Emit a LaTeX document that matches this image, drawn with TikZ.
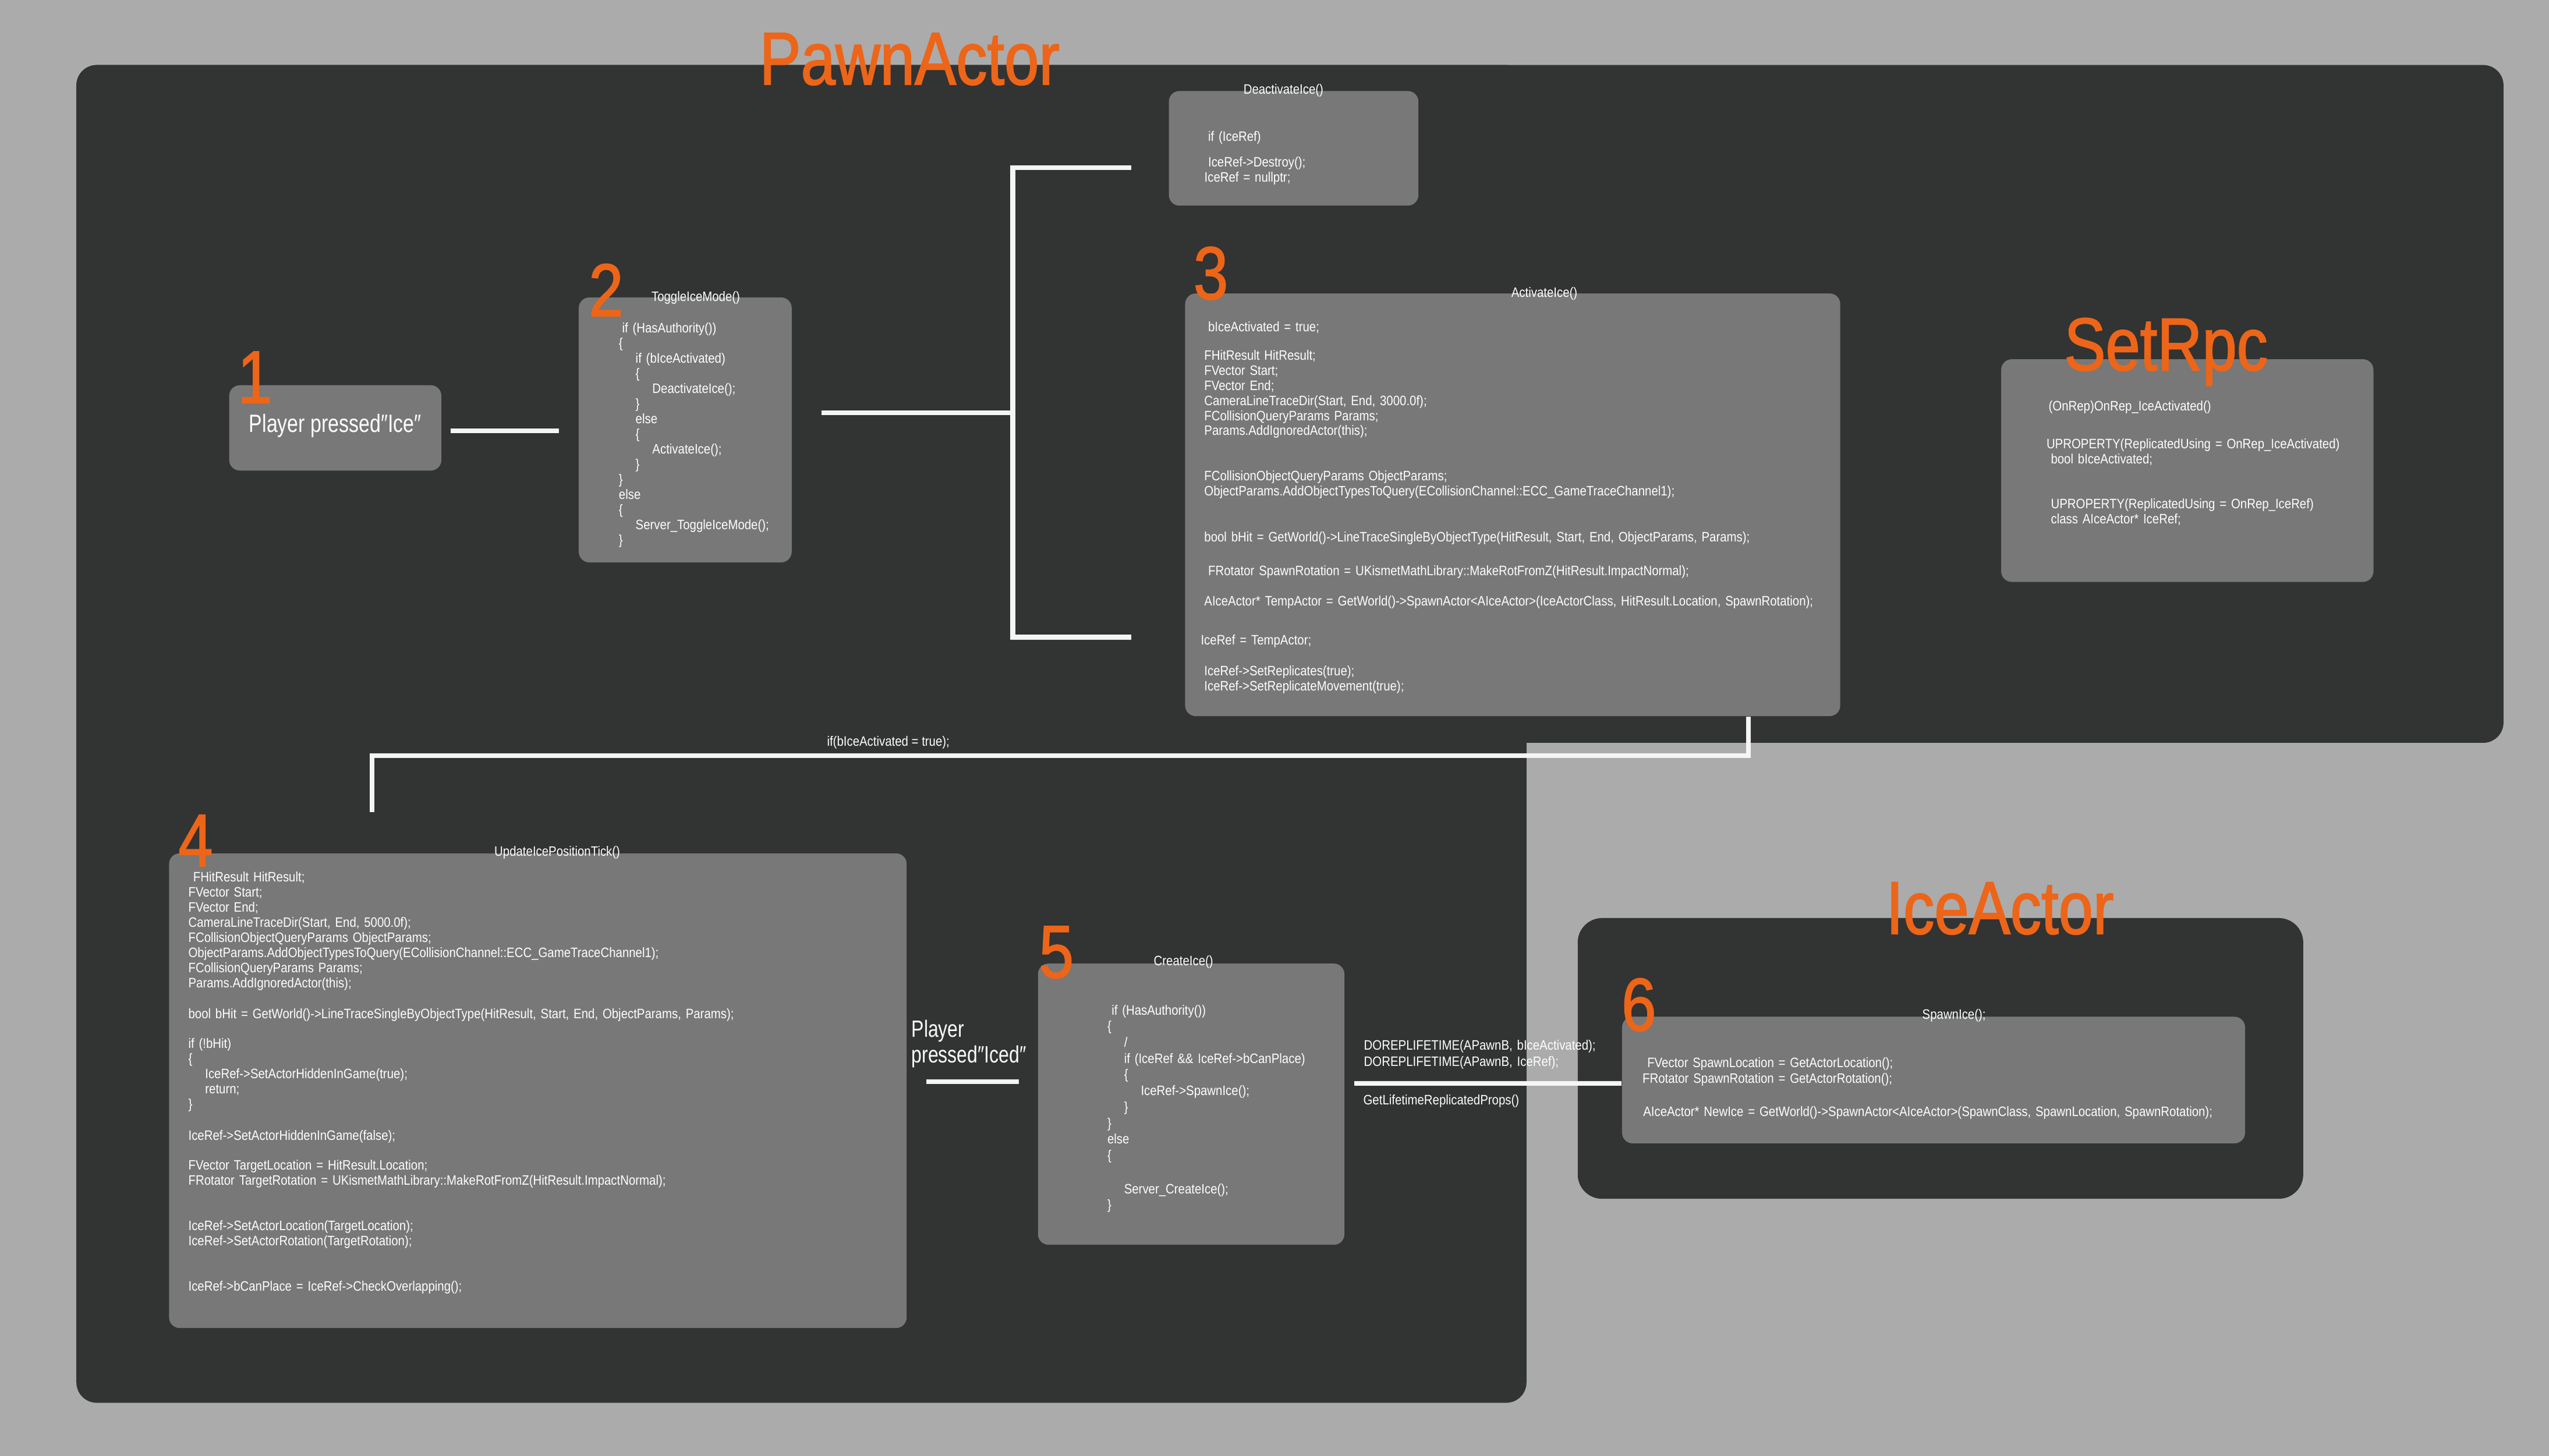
\documentclass[tikz,border=0pt]{standalone}
\usepackage{fontspec}
\setmainfont{Liberation Sans}
\newfontfamily\codefont[FakeStretch=0.87]{Liberation Sans}
\newfontfamily\headfont[FakeStretch=0.83,FakeBold=1.5]{Liberation Sans}
\newfontfamily\pressfont[FakeStretch=0.79]{Liberation Sans}
\newcommand\codetab{\hspace*{10.3pt}}
\definecolor{sheetgray}{HTML}{ABABAB}
\definecolor{panelgray}{HTML}{323333}
\definecolor{cardgray}{HTML}{777877}
\definecolor{accent}{HTML}{EC6519}
\definecolor{wirewhite}{HTML}{F5F5F5}

\begin{document}
\begin{tikzpicture}[%
	x=1pt,y=-1pt,
	codebox/.style={rectangle,rounded corners=6.5pt,fill=cardgray,inner sep=0pt},
	codetext/.style={text=white,font=\codefont\fontsize{8.4}{9.3}\selectfont,
		align=left,text width=#1,inner sep=0pt,anchor=base west},
	codetext/.default=200pt,
	fname/.style={text=white,font=\codefont\fontsize{8.4}{9.3}\selectfont,inner sep=0pt,anchor=base},
	heading/.style={text=accent,font=\headfont\fontsize{46}{46}\selectfont,inner sep=0pt,anchor=base west},
	wire/.style={draw=wirewhite,line width=2.9pt}]

	\useasboundingbox (0,0) rectangle (1568,895.7);
	\fill[sheetgray] (0,0) rectangle (1568,895.7);

	\fill[panelgray,rounded corners=12.5pt] (47,40) rectangle (1540,457);
	\fill[panelgray,rounded corners=12.5pt] (47,40) rectangle (939,863);
	\fill[panelgray,rounded corners=15pt]	(970.5,564.8) rectangle (1416.8,737.5);

	\node[codebox,minimum width=130.5pt,minimum height=52.5pt,text=white,
		font=\pressfont\fontsize{15.4}{16}\selectfont,text height=11pt,text depth=5.5pt]
						(PI)	at (206.25,263.25)	{Player pressed″Ice″};
	\node[codebox,minimum width=131pt,minimum height=163pt]		(TI)	at (421.5,264.5)	{};
	\node[codebox,minimum width=153.5pt,minimum height=70.5pt]	(DI)	at (795.75,91.25)	{};
	\node[codebox,minimum width=403pt,minimum height=260pt]		(AI)	at (930.5,310.55)	{};
	\node[codebox,minimum width=229pt,minimum height=137pt]		(RPC)	at (1345.5,289.5)	{};
	\node[codebox,minimum width=453.7pt,minimum height=292pt]	(UT)	at (330.85,671)		{};
	\node[codebox,minimum width=188.5pt,minimum height=173pt]	(CI)	at (732.75,679.3)	{};
	\node[codebox,minimum width=383.2pt,minimum height=77.9pt]	(SI)	at (1189.4,664.45)	{};

	\node[heading]	(PA)	at (467,52)			{PawnActor};
	\node[heading]	(SR)	at (1269.6,227.8)	{SetRpc};
	\node[heading]	(IA)	at (1160,574.5)		{IceActor};

	\node[fname]	at (428,185.5)		{ToggleIceMode()};
	\node[fname]	at (789.5,58)		{DeactivateIce()};
	\node[fname]	at (950,183)		{ActivateIce()};
	\node[fname]	at (342.8,526.5)	{UpdateIcePositionTick()};
	\node[fname]	at (728,594)		{CreateIce()};
	\node[fname]	at (1202,626.8)		{SpawnIce();};

	\node[codetext=100pt]	(TIcode)	at (380.5,204.8) {%
		\hspace*{2pt}if (HasAuthority())\\
		\{\\
		\codetab if (bIceActivated)\\
		\codetab\{\\
		\codetab\codetab DeactivateIce();\\
		\codetab\}\\
		\codetab else\\
		\codetab\{\\
		\codetab\codetab ActivateIce();\\
		\codetab\}\\
		\}\\
		else\\
		\{\\
		\codetab Server\_ToggleIceMode();\\
		\}};

	\node[codetext=120pt]	(DIcode)	at (743,86.7) {%
		if (IceRef)\\[6.7pt]
		IceRef->Destroy();\\
		\hspace*{-2.3pt}IceRef = nullptr;};

	\node[codetext=420pt]	(AIcode)	at (740.6,203.8) {%
		\hspace*{2.4pt}bIceActivated = true;\\[8.3pt]
		FHitResult HitResult;\\
		FVector Start;\\
		FVector End;\\
		CameraLineTraceDir(Start, End, 3000.0f);\\
		FCollisionQueryParams Params;\\
		Params.AddIgnoredActor(this);\\[18.3pt]
		FCollisionObjectQueryParams ObjectParams;\\
		ObjectParams.AddObjectTypesToQuery(ECollisionChannel::ECC\_GameTraceChannel1);\\[19.1pt]
		bool bHit = GetWorld()->LineTraceSingleByObjectType(HitResult, Start, End, ObjectParams, Params);\\[11.5pt]
		\hspace*{2.4pt}FRotator SpawnRotation = UKismetMathLibrary::MakeRotFromZ(HitResult.ImpactNormal);\\[9.3pt]
		AIceActor* TempActor = GetWorld()->SpawnActor<AIceActor>(IceActorClass, HitResult.Location, SpawnRotation);\\[14.9pt]
		\hspace*{-2.1pt}IceRef = TempActor;\\[9.5pt]
		IceRef->SetReplicates(true);\\
		IceRef->SetReplicateMovement(true);};

	\node[codetext=200pt]	(RPCcode)	at (1258.7,252.5) {%
		\hspace*{1.3pt}(OnRep)OnRep\_IceActivated()\\[14pt]
		UPROPERTY(ReplicatedUsing = OnRep\_IceActivated)\\
		\hspace*{2.7pt}bool bIceActivated;\\[18.3pt]
		\hspace*{2.7pt}UPROPERTY(ReplicatedUsing = OnRep\_IceRef)\\
		\hspace*{2.7pt}class AIceActor* IceRef;};

	\node[codetext=440pt]	(UTcode)	at (115.7,542.6) {%
		\hspace*{3pt}FHitResult HitResult;\\
		FVector Start;\\
		FVector End;\\
		CameraLineTraceDir(Start, End, 5000.0f);\\
		FCollisionObjectQueryParams ObjectParams;\\
		ObjectParams.AddObjectTypesToQuery(ECollisionChannel::ECC\_GameTraceChannel1);\\
		FCollisionQueryParams Params;\\
		Params.AddIgnoredActor(this);\\[9.5pt]
		bool bHit = GetWorld()->LineTraceSingleByObjectType(HitResult, Start, End, ObjectParams, Params);\\[9.2pt]
		if (!bHit)\\
		\{\\
		\codetab IceRef->SetActorHiddenInGame(true);\\
		\codetab return;\\
		\}\\[9.8pt]
		IceRef->SetActorHiddenInGame(false);\\[9pt]
		FVector TargetLocation = HitResult.Location;\\
		FRotator TargetRotation = UKismetMathLibrary::MakeRotFromZ(HitResult.ImpactNormal);\\[18.7pt]
		IceRef->SetActorLocation(TargetLocation);\\
		IceRef->SetActorRotation(TargetRotation);\\[18.7pt]
		IceRef->bCanPlace = IceRef->CheckOverlapping();};

	\node[codetext=140pt,font=\codefont\fontsize{8.4}{9.92}\selectfont]	(CIcode)	at (681,624.3) {%
		\hspace*{2.6pt}if (HasAuthority())\\
		\{\\
		\codetab/\\
		\codetab if (IceRef \&\& IceRef->bCanPlace)\\
		\codetab\{\\
		\codetab\codetab IceRef->SpawnIce();\\
		\codetab\}\\
		\}\\
		else\\
		\{\\[10.8pt]
		\codetab Server\_CreateIce();\\
		\}};

	\node[codetext=370pt,font=\codefont\fontsize{8.4}{9.6}\selectfont]	(SIcode)	at (1010.2,656.8) {%
		\hspace*{2.9pt}FVector SpawnLocation = GetActorLocation();\\
		FRotator SpawnRotation = GetActorRotation();\\[10.9pt]
		\hspace*{0.4pt}AIceActor* NewIce = GetWorld()->SpawnActor<AIceActor>(SpawnClass, SpawnLocation, SpawnRotation);};

	\node[heading]	(N1)	at (146,248)		{1};
	\node[heading]	(N2)	at (362,194.5)		{2};
	\node[heading]	(N3)	at (734,184)		{3};
	\node[heading]	(N4)	at (109.5,533)		{4};
	\node[heading]	(N5)	at (639,601.5)		{5};
	\node[heading]	(N6)	at (997.3,634)		{6};

	\coordinate (L12)	at (0,265);
	\coordinate (F)		at (623,254);
	\coordinate (FU)	at (623,103);
	\coordinate (FD)	at (623,392);
	\coordinate (D1)	at (1075.5,465);
	\coordinate (D2)	at (229,465);
	\coordinate (L45)	at (0,665.6);
	\coordinate (L56)	at (0,666.5);

	\draw[wire,shorten <=5.5pt,shorten >=12pt]	(PI.east |- L12) -- (TI.west |- L12);
	\draw[wire,shorten <=18pt]					(TI.east |- F) -- (F);
	\draw[wire,shorten <=23pt,shorten >=33pt]	(DI.west |- FU) -- (FU) -- (FD) -- (AI.west |- FD);
	\draw[wire,shorten >=25pt]	(AI.south -| D1) -- (D1)
		-- node[fname,pos=0.625,yshift=6pt] {if(bIceActivated = true);}
		(D2) -- (D2 |- UT.north);
	\draw[wire,shorten <=11.8pt,shorten >=11.5pt]	(UT.east |- L45)
		-- node[text=white,font=\pressfont\fontsize{14.5}{16}\selectfont,align=left,text width=80pt,
			inner sep=0pt,pos=0,anchor=south west,xshift=1.4pt,yshift=7.2pt] {Player\\pressed″Iced″}
		(CI.west |- L45);
	\draw[wire,shorten <=5.7pt]	(CI.east |- L56)
		-- node[codetext=170pt,pos=0,anchor=south west,xshift=10.4pt,yshift=7.5pt]
			{DOREPLIFETIME(APawnB, bIceActivated);\\[0.7pt]DOREPLIFETIME(APawnB, IceRef);}
		node[codetext=170pt,pos=0,anchor=north west,xshift=10pt,yshift=-5.4pt]
			{GetLifetimeReplicatedProps()}
		(SI.west |- L56);

\end{tikzpicture}
\end{document}
